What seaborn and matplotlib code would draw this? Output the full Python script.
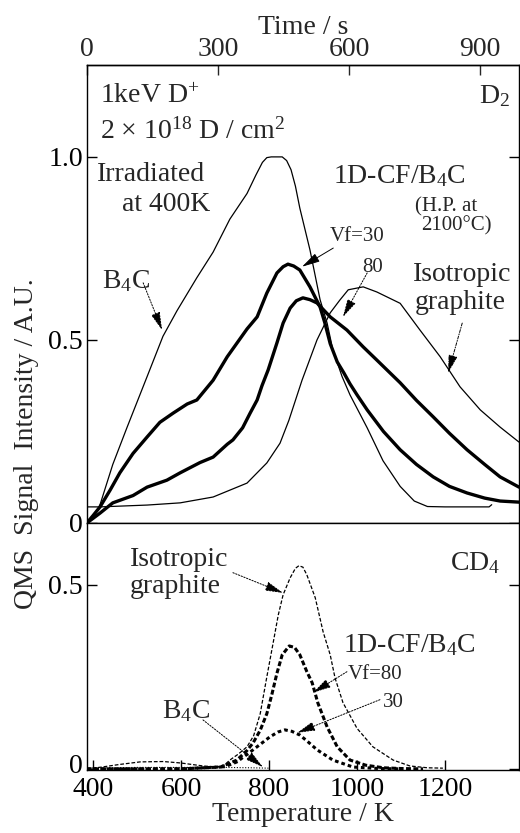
import numpy as np
import pandas as pd
import matplotlib
matplotlib.use("Agg")
import matplotlib.pyplot as plt
import matplotlib.transforms as mtransforms
import seaborn as sns

# ---------------- data (Temperature K, signal A.U.) ----------------
# D2 panel
d2_b4c_T = [386, 400, 416, 445, 477, 500, 523, 559, 591, 636, 673, 711, 750, 770, 785, 795, 805, 830,
            840, 850, 860, 870, 893, 916, 932, 945, 966, 984, 1023, 1059, 1098, 1130, 1160, 1200, 1250,
            1300, 1306]
d2_b4c_v = [0.0, 0.012, 0.05, 0.16, 0.26, 0.33, 0.40, 0.51, 0.58, 0.67, 0.74, 0.83, 0.90, 0.95, 0.985,
            0.998, 1.0, 1.0, 0.99, 0.965, 0.92, 0.86, 0.746, 0.61, 0.546, 0.473, 0.40, 0.35, 0.26, 0.17,
            0.10, 0.06, 0.045, 0.044, 0.044, 0.044, 0.05]

d2_vf30_T = [386, 400, 416, 439, 461, 491, 523, 552, 582, 614, 636, 673, 705, 750, 773, 795, 818, 832,
             843, 856, 870, 893, 916, 927, 939, 955, 970, 984, 1000, 1023, 1060, 1098, 1135, 1173, 1210,
             1250, 1290, 1325, 1368]
d2_vf30_v = [0.0, 0.02, 0.044, 0.09, 0.137, 0.19, 0.235, 0.275, 0.30, 0.325, 0.336, 0.39, 0.454, 0.53,
             0.563, 0.628, 0.683, 0.70, 0.707, 0.702, 0.691, 0.645, 0.59, 0.546, 0.49, 0.44, 0.41, 0.38,
             0.35, 0.309, 0.25, 0.20, 0.16, 0.126, 0.10, 0.082, 0.068, 0.06, 0.057]

d2_vf80_T = [386, 416, 445, 491, 523, 568, 598, 643, 673, 705, 718, 740, 757, 773, 784, 798, 818, 832,
             848, 862, 877, 893, 909, 939, 977, 1014, 1045, 1098, 1135, 1173, 1210, 1250, 1290, 1325, 1368]
d2_vf80_v = [0.0, 0.027, 0.055, 0.075, 0.098, 0.117, 0.137, 0.165, 0.18, 0.215, 0.227, 0.26, 0.30, 0.336,
             0.375, 0.418, 0.492, 0.546, 0.587, 0.607, 0.615, 0.61, 0.601, 0.563, 0.527, 0.481, 0.445,
             0.383, 0.335, 0.29, 0.245, 0.20, 0.16, 0.126, 0.098]

d2_iso_T = [386, 416, 523, 598, 673, 750, 795, 825, 845, 875, 909, 939, 961, 980, 1014, 1045, 1098,
            1143, 1189, 1234, 1280, 1325, 1368]
d2_iso_v = [0.044, 0.044, 0.049, 0.055, 0.071, 0.109, 0.164, 0.218, 0.28, 0.39, 0.50, 0.574, 0.609,
            0.637, 0.645, 0.631, 0.60, 0.527, 0.454, 0.372, 0.309, 0.262, 0.221]

# CD4 panel
cd4_iso_T = [386, 420, 460, 507, 560, 600, 650, 682, 700, 711, 730, 750, 765, 780, 795, 809, 821, 832,
             848, 860, 868, 877, 886, 905, 923, 939, 950, 968, 1000, 1036, 1082, 1120, 1160, 1195]
cd4_iso_v = [0.0, 0.005, 0.012, 0.019, 0.02, 0.016, 0.008, 0.005, 0.012, 0.024, 0.04, 0.06, 0.09, 0.15,
             0.25, 0.34, 0.418, 0.473, 0.519, 0.545, 0.552, 0.548, 0.527, 0.465, 0.372, 0.31, 0.247,
             0.18, 0.11, 0.06, 0.024, 0.008, 0.003, 0.002]

cd4_vf80_T = [386, 600, 690, 727, 750, 764, 780, 795, 806, 818, 830, 846, 858, 870, 886, 898, 911, 932,
              955, 984, 1020, 1060, 1100, 1150]
cd4_vf80_v = [0.0, 0.0, 0.005, 0.024, 0.05, 0.071, 0.105, 0.15, 0.20, 0.26, 0.31, 0.334, 0.33, 0.31,
              0.264, 0.234, 0.179, 0.114, 0.06, 0.024, 0.01, 0.003, 0.001, 0.0]

cd4_vf30_T = [386, 600, 700, 727, 764, 802, 820, 836, 852, 870, 890, 909, 945, 991, 1050, 1100]
cd4_vf30_v = [0.0, 0.0, 0.006, 0.019, 0.052, 0.087, 0.10, 0.106, 0.102, 0.092, 0.072, 0.052, 0.024,
              0.005, 0.001, 0.0]

cd4_b4c_T = [386, 500, 600, 700, 760, 800]
cd4_b4c_v = [0.002, 0.004, 0.004, 0.004, 0.003, 0.002]

temp_ticks = [400, 600, 800, 1000, 1200]
time_ticks = [0, 300, 600, 900]

# ---------------- style ----------------
sns.set_theme(style="ticks")
plt.rcParams["font.family"] = ["Liberation Serif", "DejaVu Serif"]
plt.rcParams["mathtext.fontset"] = "custom"
plt.rcParams["mathtext.rm"] = "Liberation Serif"
plt.rcParams["mathtext.it"] = "Liberation Serif:italic"
plt.rcParams["mathtext.bf"] = "Liberation Serif:bold"
plt.rcParams["axes.linewidth"] = 1.0
plt.rcParams["axes.edgecolor"] = "black"
plt.rcParams["lines.solid_joinstyle"] = "round"
plt.rcParams["lines.dash_joinstyle"] = "round"

FS = 20
FSS = 15

fig = plt.figure(figsize=(5.2, 8.33), dpi=100)
W, H = 520, 833
x0, x1 = 87, 519
ax1 = fig.add_axes([x0 / W, 1 - 523 / H, (x1 - x0) / W, (523 - 65) / H])
ax2 = fig.add_axes([x0 / W, 1 - 770 / H, (x1 - x0) / W, (770 - 523) / H])

XLIM = (386.4, 1368)


def draw(ax, T, v, lw, ls):
    sns.lineplot(x=T, y=v, ax=ax, color="black", lw=lw, linestyle=ls,
                 estimator=None, sort=False)


# D2 curves
draw(ax1, d2_b4c_T, d2_b4c_v, 0.9, "-")
draw(ax1, d2_iso_T, d2_iso_v, 0.9, "-")
draw(ax1, d2_vf30_T, d2_vf30_v, 2.4, "-")
draw(ax1, d2_vf80_T, d2_vf80_v, 2.4, "-")

# CD4 curves
draw(ax2, cd4_b4c_T, cd4_b4c_v, 0.8, (0, (1, 1.5)))
draw(ax2, cd4_iso_T, cd4_iso_v, 0.9, (0, (3, 1.5)))
draw(ax2, cd4_vf80_T, cd4_vf80_v, 2.2, (0, (1.6, 0.8)))
draw(ax2, cd4_vf30_T, cd4_vf30_v, 2.2, (0, (1.2, 1.0)))

for ax in (ax1, ax2):
    ax.set_xlim(*XLIM)
    ax.set_xlabel("")
    ax.set_ylabel("")
    for s in ax.spines.values():
        s.set_visible(True)
        s.set_color("black")
        s.set_linewidth(1.0)
    ax.tick_params(direction="in", length=7, width=1.0, colors="black",
                   labelsize=FS, left=True, right=True, pad=3)

ax1.set_ylim(0, 1.251)
ax1.set_yticks([0, 0.5, 1.0])
ax1.set_yticklabels(["0", "0.5", "1.0"])
ax1.tick_params(axis="x", bottom=False, top=False, labelbottom=False)

ax2.set_ylim(-0.003, 0.668)
ax2.set_yticks([0, 0.5])
ax2.set_yticklabels(["0", "0.5"])
ax2.set_xticks(temp_ticks)
ax2.set_xticklabels([str(t) for t in temp_ticks])
ax2.tick_params(axis="x", top=False, bottom=True, pad=5)
ax2.set_xlabel("Temperature / K", fontsize=FS, labelpad=0)

# nudge the lowest "0" label up slightly so it clears the "400" label
zero_lab = ax2.get_yticklabels()[0]
zero_lab.set_transform(zero_lab.get_transform() +
                       mtransforms.ScaledTranslation(0, 4 / 72, fig.dpi_scale_trans))

# time axis on top (1 K/s heating starting at ~386 K)
sec = ax1.secondary_xaxis("top", functions=(lambda T: (T - 386.4) * 1.0076,
                                            lambda t: t / 1.0076 + 386.4))
sec.set_xticks(time_ticks)
sec.set_xticklabels([str(t) for t in time_ticks])
sec.tick_params(direction="in", length=7, width=1.0, labelsize=FS, pad=2)
sec.set_xlabel("Time / s", fontsize=FS, labelpad=2)

fig.text(27 / W, 1 - 444 / H, "QMS  Signal  Intensity / A.U.", rotation=90,
         ha="center", va="center", fontsize=FS)

# ---------------- annotations: D2 ----------------
def txt(ax, T, v, s, size=FS, ha="left"):
    ax.text(T, v, s, fontsize=size, ha=ha, va="baseline")


def arrow(ax, start, end, ls=(0, (1.5, 1.5))):
    ax.annotate("", xy=end, xytext=start,
                arrowprops=dict(arrowstyle="-|>,head_length=1.1,head_width=0.28",
                                mutation_scale=10, lw=0.7, color="black",
                                linestyle=ls, shrinkA=0, shrinkB=0))


txt(ax1, 416, 1.148, r"1keV D$^{+}$")
txt(ax1, 416, 1.049, r"2 × 10$^{18}$ D / cm$^{2}$")
txt(ax1, 1348, 1.148, r"D$_{2}$", ha="right")
txt(ax1, 409, 0.934, "Irradiated")
txt(ax1, 466, 0.852, "at 400K")
txt(ax1, 946, 0.929, r"1D-CF/B$_{4}$C")
txt(ax1, 1132, 0.850, "(H.P. at", size=FSS)
txt(ax1, 1146, 0.798, "2100°C)", size=FSS)
txt(ax1, 939, 0.770, "Vf=30", size=FSS)
txt(ax1, 1011, 0.686, "80", size=FSS)
txt(ax1, 1127, 0.661, "Isotropic")
txt(ax1, 1132, 0.585, "graphite")
txt(ax1, 420, 0.642, r"B$_{4}$C")

arrow(ax1, (514, 0.656), (557, 0.527))
arrow(ax1, (946, 0.751), (875, 0.700), ls="-")
arrow(ax1, (1023, 0.683), (968, 0.563))
arrow(ax1, (1239, 0.546), (1207, 0.410), ls=(0, (3, 1.5, 1, 1.5)))

# ---------------- annotations: CD4 ----------------
txt(ax2, 484, 0.552, "Isotropic")
txt(ax2, 484, 0.478, "graphite")
txt(ax2, 1325, 0.541, r"CD$_{4}$", ha="right")
txt(ax2, 968, 0.318, r"1D-CF/B$_{4}$C")
txt(ax2, 980, 0.245, "Vf=80", size=FSS)
txt(ax2, 1059, 0.168, "30", size=FSS)
txt(ax2, 557, 0.139, r"B$_{4}$C")

arrow(ax2, (718, 0.533), (832, 0.478))
arrow(ax2, (977, 0.264), (900, 0.207))
arrow(ax2, (1052, 0.188), (864, 0.098))
arrow(ax2, (650, 0.133), (786, 0.005))

fig.savefig("out.png", dpi=100)
